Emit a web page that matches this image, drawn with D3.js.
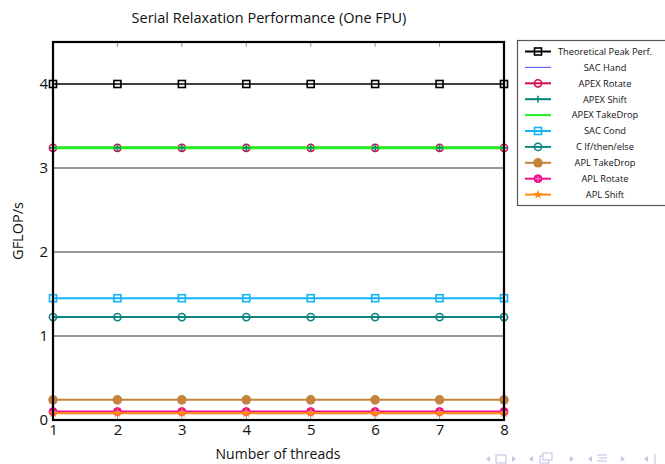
<!DOCTYPE html>
<html><head><meta charset="utf-8">
<script src="https://cdn.jsdelivr.net/npm/d3@7"></script>
<style>body{margin:0;background:#fff;} svg{display:block;font-family:"Open Sans","DejaVu Sans",sans-serif;}</style>
</head><body>
<svg id="c" width="665" height="464"></svg>
<script>
const threads = [1,2,3,4,5,6,7,8];
const seriesNames = ["Theoretical Peak Perf.","SAC Hand","APEX Rotate","APEX Shift","APEX TakeDrop","SAC Cond","C If/then/else","APL TakeDrop","APL Rotate","APL Shift"];
const theoretical = [4,4,4,4,4,4,4,4];
const sacHand = [3.24,3.24,3.24,3.24,3.24,3.24,3.24,3.24];
const apexRotate = [3.24,3.24,3.24,3.24,3.24,3.24,3.24,3.24];
const apexShift = [3.24,3.24,3.24,3.24,3.24,3.24,3.24,3.24];
const apexTakeDrop = [3.24,3.24,3.24,3.24,3.24,3.24,3.24,3.24];
const sacCond = [1.45,1.45,1.45,1.45,1.45,1.45,1.45,1.45];
const cIf = [1.225,1.225,1.225,1.225,1.225,1.225,1.225,1.225];
const aplTakeDrop = [0.24,0.24,0.24,0.24,0.24,0.24,0.24,0.24];
const aplRotate = [0.1,0.1,0.1,0.1,0.1,0.1,0.1,0.1];
const aplShift = [0.08,0.08,0.08,0.08,0.08,0.08,0.08,0.08];
const yTicks = [0,1,2,3,4];
const xTicks = [1,2,3,4,5,6,7,8];

const series = [
 {name:seriesNames[0], values:theoretical, color:"#000000", marker:"square", w:1.5},
 {name:seriesNames[1], values:sacHand, color:"#6a6aff", marker:null, w:1.2},
 {name:seriesNames[2], values:apexRotate, color:"#d0104c", marker:"circle", w:2},
 {name:seriesNames[3], values:apexShift, color:"#00857a", marker:"plus", w:2},
 {name:seriesNames[4], values:apexTakeDrop, color:"#22ee22", marker:null, w:3},
 {name:seriesNames[5], values:sacCond, color:"#13b4ef", marker:"square", w:2},
 {name:seriesNames[6], values:cIf, color:"#0a8585", marker:"circle", w:2},
 {name:seriesNames[7], values:aplTakeDrop, color:"#c4843e", marker:"dot", w:2},
 {name:seriesNames[8], values:aplRotate, color:"#ee1190", marker:"circlefill", w:2},
 {name:seriesNames[9], values:aplShift, color:"#ff8a10", marker:"star", w:2}
];

const svg = d3.select("#c");
const L=53,R=504,T=42,B=420;
const x = d3.scaleLinear().domain([1,8]).range([L,R]);
const y = d3.scaleLinear().domain([0,4.5]).range([B,T]);

// gridlines
svg.append("g").selectAll("line").data(yTicks.filter(d=>d>0 && d<4)).join("line")
 .attr("x1",L).attr("x2",R).attr("y1",d=>y(d)).attr("y2",d=>y(d))
 .attr("stroke","#333").attr("stroke-width",1);

// ticks inside
const tk = svg.append("g").attr("stroke","#999").attr("stroke-width",1);
xTicks.forEach(t=>{
  tk.append("line").attr("x1",x(t)).attr("x2",x(t)).attr("y1",B).attr("y2",B-5);
  tk.append("line").attr("x1",x(t)).attr("x2",x(t)).attr("y1",T).attr("y2",T+5);
});
yTicks.forEach(t=>{
  tk.append("line").attr("x1",L).attr("x2",L+5).attr("y1",y(t)).attr("y2",y(t));
  tk.append("line").attr("x1",R).attr("x2",R-5).attr("y1",y(t)).attr("y2",y(t));
});

// axes labels via d3 axes
const xAxis = svg.append("g").attr("transform",`translate(0,${B})`)
 .call(d3.axisBottom(x).tickValues(xTicks).tickSize(0).tickPadding(4).tickFormat(d3.format("d")));
const yAxis = svg.append("g").attr("transform",`translate(${L},0)`)
 .call(d3.axisLeft(y).tickValues(yTicks).tickSize(0).tickPadding(5).tickFormat(d3.format("d")));
[xAxis,yAxis].forEach(a=>{a.select(".domain").remove(); a.selectAll("text").attr("font-size",15).attr("fill","#111").style("font-family","'Open Sans',sans-serif");});

// markers
function drawMarker(g, type, cx, cy, color){
  if(type==="square"){
    g.append("rect").attr("x",cx-3.5).attr("y",cy-3.5).attr("width",7).attr("height",7)
     .attr("fill","none").attr("stroke",color).attr("stroke-width",1.6);
  } else if(type==="circle"){
    g.append("circle").attr("cx",cx).attr("cy",cy).attr("r",3.6).attr("fill","none").attr("stroke",color).attr("stroke-width",1.6);
  } else if(type==="plus"){
    g.append("path").attr("d",`M${cx-3.5},${cy}H${cx+3.5}M${cx},${cy-3.5}V${cy+3.5}`).attr("stroke",color).attr("stroke-width",1.5);
  } else if(type==="dot"){
    g.append("circle").attr("cx",cx).attr("cy",cy).attr("r",4.8).attr("fill",color);
  } else if(type==="circlefill"){
    g.append("circle").attr("cx",cx).attr("cy",cy).attr("r",4).attr("fill",color).attr("stroke",color).attr("stroke-width",1);
    g.append("path").attr("d",`M${cx-3},${cy}H${cx+3}M${cx},${cy-3}V${cy+3}`).attr("stroke","#ff99cc").attr("stroke-width",0.8);
  } else if(type==="star"){
    g.append("path").attr("d",d3.symbol().type(d3.symbolStar).size(28)()).attr("transform",`translate(${cx},${cy})`).attr("fill",color);
  }
}

const line = d3.line().x((d,i)=>x(threads[i])).y(d=>y(d));
const plot = svg.append("g");
function drawSeries(s, withLine, withMarkers){
  if(withLine) plot.append("path").datum(s.values).attr("d",line).attr("fill","none").attr("stroke",s.color).attr("stroke-width",s.w);
  if(withMarkers && s.marker) s.values.forEach((v,i)=>drawMarker(plot,s.marker,x(threads[i]),y(v),s.color));
}
drawSeries(series[0],true,true);
drawSeries(series[1],true,true);
drawSeries(series[2],true,true);
drawSeries(series[4],true,false);
drawSeries(series[3],false,true);
for(let k=5;k<10;k++) drawSeries(series[k],true,true);

// border
svg.append("rect").attr("x",L).attr("y",T).attr("width",R-L).attr("height",B-T)
 .attr("fill","none").attr("stroke","#000").attr("stroke-width",2.2);

// title and axis titles
svg.append("text").attr("x",269).attr("y",23).attr("text-anchor","middle").attr("font-size",14.5).attr("fill","#111").text("Serial Relaxation Performance (One FPU)");
svg.append("text").attr("x",278).attr("y",459).attr("text-anchor","middle").attr("font-size",14).attr("fill","#111").text("Number of threads");
svg.append("text").attr("transform","translate(23,231) rotate(-90)").attr("text-anchor","middle").attr("font-size",14.5).attr("fill","#111").text("GFLOP/s");

// legend
const lg = svg.append("g");
lg.append("rect").attr("x",517.5).attr("y",40.5).attr("width",150).attr("height",165).attr("fill","#fff").attr("stroke","#555").attr("stroke-width",1.2);
series.forEach((s,i)=>{
  const ly = 51.5 + i*15.9;
  lg.append("line").attr("x1",525).attr("x2",551).attr("y1",ly).attr("y2",ly).attr("stroke",s.color).attr("stroke-width",s.name==="SAC Hand"?1.2:2);
  if(s.marker) drawMarker(lg,s.marker,538,ly,s.color);
  lg.append("text").attr("x",605).attr("y",ly+3.3).attr("text-anchor","middle").attr("font-size",9.3).attr("fill","#111").text(s.name);
});

// beamer navigation symbols
const nav = svg.append("g").attr("fill","#c8c8e6").attr("stroke","#c8c8e6");
const navY = 459;
function tri(cx,dir){ nav.append("path").attr("d",`M${cx+dir*-2},${navY-3}L${cx+dir*2},${navY}L${cx+dir*-2},${navY+3}Z`).attr("stroke","none"); }
tri(488,-1); nav.append("rect").attr("x",496).attr("y",navY-4).attr("width",10).attr("height",8).attr("fill","none").attr("stroke-width",1.2); tri(514,1);
tri(531,-1);
nav.append("rect").attr("x",540).attr("y",navY-3).attr("width",9).attr("height",7).attr("fill","none").attr("stroke-width",1.2);
nav.append("rect").attr("x",543).attr("y",navY-6).attr("width",9).attr("height",7).attr("fill","#fff").attr("stroke-width",1.2);
tri(572,1);
tri(590,-1);
[0,3,6].forEach(d=>nav.append("line").attr("x1",597+(d===3?2:0)).attr("x2",607).attr("y1",navY-4+d).attr("y2",navY-4+d).attr("stroke-width",1.2));
tri(623,1);
tri(646,-1);
nav.append("line").attr("x1",655).attr("x2",655).attr("y1",navY-5).attr("y2",navY+5).attr("stroke-width",1.2);
</script>
</body></html>
